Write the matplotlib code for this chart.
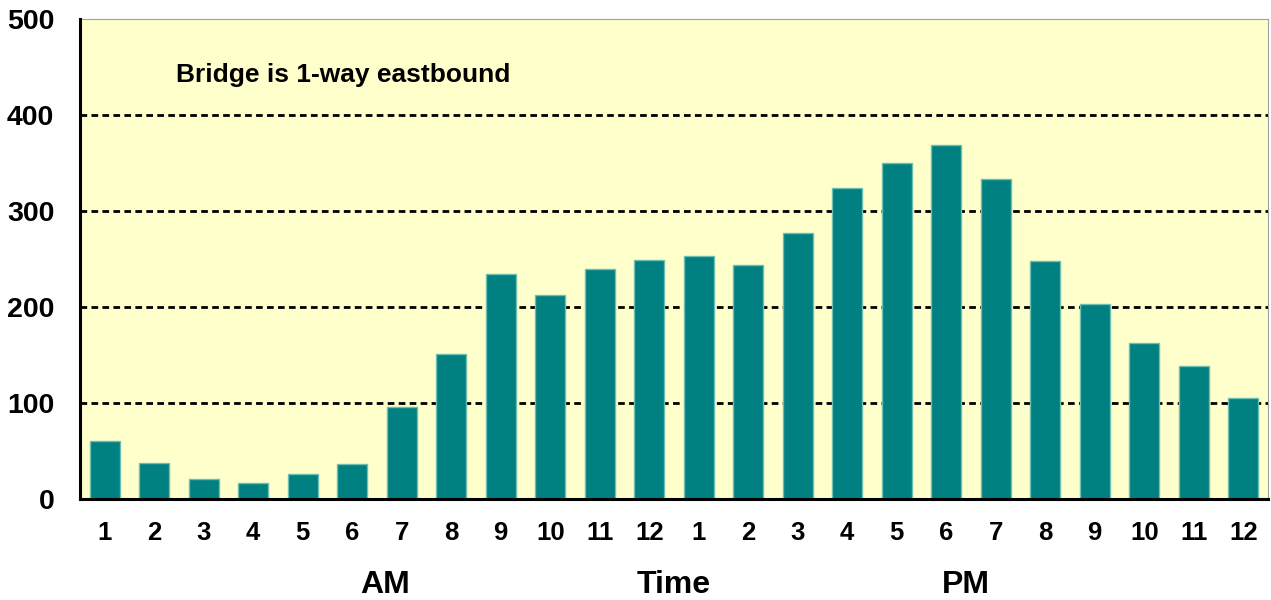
import matplotlib
matplotlib.use("Agg")
import matplotlib.pyplot as plt
import numpy as np

hours = ["1", "2", "3", "4", "5", "6", "7", "8", "9", "10", "11", "12",
         "1", "2", "3", "4", "5", "6", "7", "8", "9", "10", "11", "12"]
volumes = [60, 38, 21, 17, 26, 36, 96, 151, 234, 213, 240, 249,
           253, 244, 277, 324, 350, 369, 333, 248, 203, 162, 139, 105]
y_ticks = [0, 100, 200, 300, 400, 500]
grid_levels = [100, 200, 300, 400]
note = "Bridge is 1-way eastbound"

plt.rcParams['font.family'] = ['Liberation Sans', 'DejaVu Sans']
plt.rcParams['font.weight'] = 'bold'

fig = plt.figure(figsize=(12.71, 6.0), dpi=100)
ax = fig.add_axes([80/1271, 101/600, 1188/1271, 480/600])
ax.set_facecolor('#FFFFCC')

x = np.arange(len(volumes))
ax.bar(x, volumes, width=0.6, color='#008080', edgecolor='#6DBDB0', linewidth=1.0, zorder=3)

for g in grid_levels:
    ax.axhline(g, color='black', linewidth=2.0, linestyle=(0, (2.4, 1.55)), zorder=2)

ax.set_xlim(-0.5, len(volumes) - 0.5)
ax.set_ylim(0, 500)
ax.set_yticks(y_ticks)
ax.set_yticklabels([str(v) for v in y_ticks], fontsize=20.5, fontweight='bold')
ax.set_xticks(x)
ax.set_xticklabels(hours, fontsize=18.5, fontweight='bold')
ax.tick_params(axis='y', length=0, pad=18.5)
ax.tick_params(axis='x', length=0, pad=16)

for s in ['left', 'bottom']:
    ax.spines[s].set_linewidth(2.2)
    ax.spines[s].set_color('black')
for s in ['top', 'right']:
    ax.spines[s].set_linewidth(0.8)
    ax.spines[s].set_color('#A0A0A0')
ax.spines['left'].set_zorder(5)
ax.spines['bottom'].set_zorder(5)

ax.text(0.081, 0.883, note, transform=ax.transAxes, fontsize=19,
        fontweight='bold', ha='left', va='center')
for label, xpos in [("AM", 0.257), ("Time", 0.500), ("PM", 0.746)]:
    ax.text(xpos, -0.179, label, transform=ax.transAxes, fontsize=23,
            fontweight='bold', ha='center', va='center')

fig.savefig("out.png", dpi=100)
